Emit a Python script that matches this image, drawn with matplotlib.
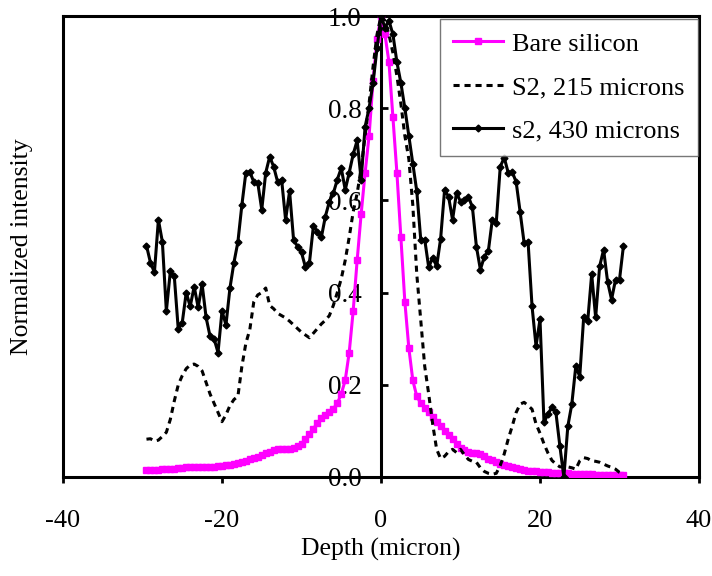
import numpy as np
import matplotlib
matplotlib.use("Agg")
import matplotlib.pyplot as plt

plt.rcParams['font.family'] = ['Liberation Serif', 'DejaVu Serif']
plt.rcParams['axes.unicode_minus'] = False

# depth samples (micron), 0.5 micron step
depth = np.arange(-29.5, 30.51, 0.5)

bare_silicon = [
    0.015, 0.015, 0.016, 0.016, 0.017, 0.017, 0.018, 0.018, 0.019, 0.020,
    0.021, 0.022, 0.022, 0.022, 0.022, 0.022, 0.022, 0.022, 0.023, 0.024,
    0.025, 0.027, 0.029, 0.031, 0.033, 0.035, 0.038, 0.041, 0.044, 0.047,
    0.051, 0.055, 0.058, 0.060, 0.061, 0.061, 0.061, 0.063, 0.067, 0.072,
    0.082, 0.093, 0.105, 0.117, 0.127, 0.134, 0.140, 0.148, 0.160, 0.180,
    0.210, 0.270, 0.360, 0.470, 0.570, 0.660, 0.740, 0.860, 0.950,
    1.000,
    0.960, 0.900, 0.780, 0.660, 0.520, 0.380, 0.280, 0.210, 0.175, 0.160,
    0.150, 0.140, 0.130, 0.120, 0.110, 0.100, 0.092, 0.082, 0.072, 0.063,
    0.058, 0.055, 0.053, 0.052, 0.050, 0.045, 0.040, 0.036, 0.032, 0.029,
    0.026, 0.023, 0.021, 0.019, 0.017, 0.015, 0.014, 0.013, 0.012, 0.011,
    0.010, 0.010, 0.009, 0.009, 0.008, 0.008, 0.008, 0.007, 0.007, 0.007,
    0.006, 0.006, 0.006, 0.005, 0.005, 0.005, 0.005, 0.004, 0.004, 0.004,
    0.004,
]

s2_215 = [
    0.082, 0.083, 0.078, 0.080, 0.088, 0.097, 0.125, 0.165, 0.200, 0.220,
    0.235, 0.243, 0.245, 0.240, 0.230, 0.205, 0.180, 0.160, 0.140, 0.120,
    0.135, 0.155, 0.168, 0.175, 0.240, 0.290, 0.320, 0.380, 0.395, 0.400,
    0.410, 0.372, 0.365, 0.355, 0.350, 0.345, 0.338, 0.330, 0.322, 0.314,
    0.308, 0.302, 0.312, 0.322, 0.332, 0.340, 0.350, 0.372, 0.400, 0.430,
    0.470, 0.520, 0.575, 0.615, 0.670, 0.740, 0.810, 0.890, 0.960,
    1.000,
    0.990, 0.960, 0.920, 0.870, 0.810, 0.740, 0.690, 0.590, 0.440, 0.340,
    0.240, 0.180, 0.115, 0.060, 0.040, 0.045, 0.055, 0.060, 0.053, 0.060,
    0.048, 0.038, 0.034, 0.032, 0.020, 0.012, 0.008, 0.006, 0.008, 0.025,
    0.050, 0.082, 0.110, 0.140, 0.158, 0.162, 0.155, 0.147, 0.115, 0.095,
    0.072, 0.052, 0.036, 0.028, 0.022, 0.022, 0.022, 0.020, 0.017, 0.035,
    0.042, 0.040, 0.035, 0.034, 0.032, 0.028, 0.024, 0.021, 0.017, 0.010,
    0.006,
]

s2_430 = [
    0.502, 0.465, 0.444, 0.558, 0.510, 0.360, 0.446, 0.435, 0.320, 0.335,
    0.400, 0.370, 0.413, 0.368, 0.418, 0.346, 0.305, 0.300, 0.270, 0.360,
    0.330, 0.410, 0.465, 0.510, 0.590, 0.660, 0.662, 0.640, 0.638, 0.580,
    0.660, 0.695, 0.673, 0.640, 0.645, 0.558, 0.620, 0.515, 0.500, 0.487,
    0.455, 0.465, 0.545, 0.532, 0.520, 0.565, 0.597, 0.615, 0.645, 0.670,
    0.623, 0.660, 0.700, 0.730, 0.645, 0.760, 0.800, 0.855, 0.930,
    1.000,
    0.975, 0.990, 0.960, 0.900, 0.855, 0.800, 0.740, 0.680, 0.620, 0.515,
    0.515, 0.455, 0.476, 0.457, 0.517, 0.623, 0.608, 0.558, 0.617, 0.597,
    0.600, 0.608, 0.585, 0.500, 0.450, 0.478, 0.490, 0.558, 0.552, 0.673,
    0.693, 0.660, 0.662, 0.640, 0.575, 0.508, 0.510, 0.370, 0.284, 0.342,
    0.119, 0.136, 0.152, 0.140, 0.067, 0.000, 0.110, 0.158, 0.240, 0.218,
    0.348, 0.338, 0.440, 0.346, 0.457, 0.493, 0.424, 0.385, 0.428, 0.428,
    0.502,
]

x_ticks = [-40, -20, 0, 20, 40]
y_ticks = [0.0, 0.2, 0.4, 0.6, 0.8, 1.0]

fig = plt.figure(figsize=(7.12, 5.76), dpi=100)
ax = fig.add_axes([63 / 712, 1 - 477 / 576, 636 / 712, 461 / 576])

ax.plot(depth, bare_silicon, color='#ff00ff', lw=2.2, marker='s', ms=4.5,
        mec='#ff00ff', mfc='#ff00ff', label='Bare silicon', zorder=3)
ax.plot(depth, s2_215, color='black', lw=2.2, linestyle=(0, (2.0, 1.6)),
        label='S2, 215 microns', zorder=3)
ax.plot(depth, s2_430, color='black', lw=2.2, marker='D', ms=3.5,
        label='s2, 430 microns', zorder=3)

ax.set_xlim(-40, 40)
ax.set_ylim(0, 1.0)
ax.set_xticks(x_ticks)
ax.set_yticks(y_ticks)
ax.set_yticklabels([f'{v:.1f}' for v in y_ticks])

# y axis crosses at depth 0, frame drawn around the plot
ax.spines['left'].set_position(('data', 0))
for side in ['left', 'right', 'top', 'bottom']:
    ax.spines[side].set_linewidth(2.2)
    ax.spines[side].set_color('black')
ax.plot([0, 0], [0, 1], transform=ax.transAxes, color='black', lw=2.2,
        clip_on=False, zorder=2.5)

ax.tick_params(axis='x', direction='out', length=4.5, width=2, pad=19,
               labelsize=19)
ax.tick_params(axis='y', direction='in', length=5, width=2, pad=14,
               labelsize=19.5)

fig.text(381 / 712, 1 - 549 / 576, 'Depth (micron)', ha='center',
         va='center', fontsize=18.5)
fig.text(22 / 712, 1 - 247 / 576, 'Normalized intensity', ha='center',
         va='center', rotation=90, fontsize=18.5)

leg = ax.legend(loc='upper right', bbox_to_anchor=(698 / 712, 1 - 19 / 576),
                bbox_transform=fig.transFigure, borderaxespad=0,
                fontsize=19, frameon=True, fancybox=False, handlelength=1.9,
                handletextpad=0.35, labelspacing=0.76, borderpad=0.5)
leg.get_frame().set_edgecolor('#555555')
leg.get_frame().set_linewidth(1.0)

fig.savefig('out.png', dpi=100)
